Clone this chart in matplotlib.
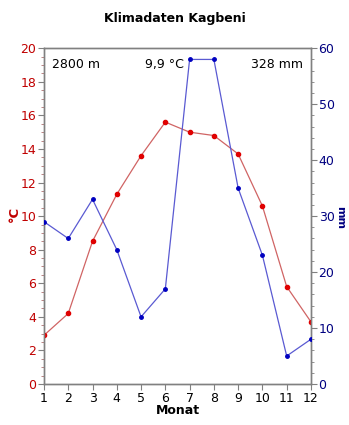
import matplotlib.pyplot as plt
from matplotlib.ticker import MultipleLocator

months = list(range(1, 13))
temp = [2.9, 4.2, 8.5, 11.3, 13.6, 15.6, 15.0, 14.8, 13.7, 10.6, 5.8, 3.7]
precip = [29, 26, 33, 24, 12, 17, 58, 58, 35, 23, 5, 8]
station = "Klimadaten Kagbeni"
altitude = "2800 m"
mean_temp = "9,9 °C"
total_precip = "328 mm"

red = '#c00000'
blue = '#000080'
frame = '#808080'

fig = plt.figure(figsize=(3.49, 4.25), dpi=100)
ax = fig.add_axes([0.126, 0.0965, 0.765, 0.79])
ax2 = ax.twinx()

ax.plot(months, temp, color='#d06464', lw=0.9, marker='o', ms=3,
        mfc='#e00000', mec='#e00000', zorder=3)
ax2.plot(months, precip, color='#5a5ad2', lw=0.9, marker='o', ms=2.5,
         mfc='#0000c0', mec='#0000c0', zorder=3)

ax.set_xlim(1, 12)
ax.set_ylim(0, 20)
ax2.set_ylim(0, 60)
ax.set_xticks(months)
ax.yaxis.set_major_locator(MultipleLocator(2))
ax.yaxis.set_minor_locator(MultipleLocator(0.5))
ax2.yaxis.set_major_locator(MultipleLocator(10))
ax2.yaxis.set_minor_locator(MultipleLocator(2))

for a in (ax, ax2):
    for s in a.spines.values():
        s.set_color(frame)
        s.set_linewidth(1.0)

ax.tick_params(axis='x', direction='out', length=4, color=frame, labelsize=9, pad=2)
ax.tick_params(axis='y', which='major', direction='out', length=4, color=frame,
               labelcolor=red, labelsize=9, pad=1.5)
ax.tick_params(axis='y', which='minor', direction='out', length=2.5, color='#b07070')
ax2.tick_params(axis='y', which='major', direction='out', length=4, color=frame,
                labelcolor=blue, labelsize=9, pad=1.5)
ax2.tick_params(axis='y', which='minor', direction='out', length=2.5, color=frame)

# axis units placed by hand next to the tick labels
fig.text(14 / 349, 1 - 214 / 425, '°C', color=red, fontsize=9.5, fontweight='bold',
         rotation=90, ha='center', va='center')
fig.text(340 / 349, 1 - 217 / 425, 'mm', color=blue, fontsize=8, fontweight='bold',
         rotation=-90, ha='center', va='center')
ax.set_xlabel('Monat', fontsize=9, fontweight='bold', labelpad=-1)
fig.suptitle(station, fontsize=9, fontweight='bold', y=0.972)

ax.text(0.03, 0.97, altitude, transform=ax.transAxes, ha='left', va='top', fontsize=9)
ax.text(0.45, 0.97, mean_temp, transform=ax.transAxes, ha='center', va='top', fontsize=9)
ax.text(0.97, 0.97, total_precip, transform=ax.transAxes, ha='right', va='top', fontsize=9)

fig.savefig('out.png', dpi=100)
